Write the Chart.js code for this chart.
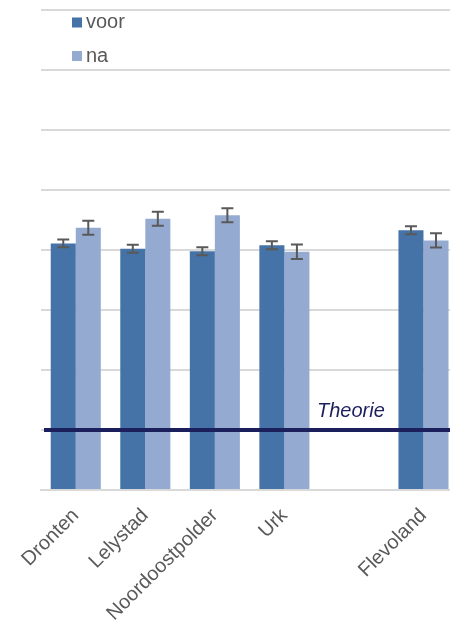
<!DOCTYPE html>
<html>
<head>
<meta charset="utf-8">
<script src="https://cdn.jsdelivr.net/npm/chart.js@4/dist/chart.umd.min.js"></script>
<style>
  html, body { margin: 0; padding: 0; background: #fff; overflow: hidden; }
  #wrap { width: 460px; height: 625px; position: relative; }
</style>
</head>
<body>
<div id="wrap"><canvas id="c"></canvas></div>
<script>
const categories = ['Dronten', 'Lelystad', 'Noordoostpolder', 'Urk', '', 'Flevoland'];
const voor = [4.11, 4.02, 3.98, 4.08, null, 4.33];
const na = [4.37, 4.52, 4.58, 3.97, null, 4.16];
const voorErr = [0.065, 0.067, 0.067, 0.067, null, 0.067];
const naErr = [0.117, 0.117, 0.117, 0.12, null, 0.12];
const theorie = 1;
const theorieLabel = 'Theorie';
const seriesNames = ['voor', 'na'];

const errorBars = {
  id: 'errorBars',
  afterDatasetsDraw(chart) {
    const ctx = chart.ctx;
    const y = chart.scales.y;
    const errs = [voorErr, naErr];
    ctx.save();
    ctx.strokeStyle = '#595959';
    ctx.lineWidth = 2;
    chart.data.datasets.forEach((ds, di) => {
      const meta = chart.getDatasetMeta(di);
      meta.data.forEach((bar, i) => {
        const v = ds.data[i];
        const e = errs[di][i];
        if (v == null || e == null) return;
        const x = bar.x;
        const yt = y.getPixelForValue(v + e);
        const yb = y.getPixelForValue(v - e);
        ctx.beginPath();
        ctx.moveTo(x, yt); ctx.lineTo(x, yb);
        ctx.moveTo(x - 6, yt); ctx.lineTo(x + 6, yt);
        ctx.moveTo(x - 6, yb); ctx.lineTo(x + 6, yb);
        ctx.stroke();
      });
    });
    ctx.restore();
  }
};

const theorieLine = {
  id: 'theorieLine',
  afterDatasetsDraw(chart) {
    const ctx = chart.ctx;
    const a = chart.chartArea;
    const yy = chart.scales.y.getPixelForValue(theorie);
    ctx.save();
    ctx.strokeStyle = '#1b1f5c';
    ctx.lineWidth = 4;
    ctx.beginPath();
    ctx.moveTo(a.left + 3, yy);
    ctx.lineTo(a.right, yy);
    ctx.stroke();
    ctx.fillStyle = '#1b1f5c';
    ctx.font = 'italic 20px "Liberation Sans", Arial, sans-serif';
    ctx.textAlign = 'center';
    ctx.textBaseline = 'alphabetic';
    ctx.fillText(theorieLabel, chart.scales.x.getPixelForValue(4) - 3, yy - 13);
    ctx.restore();
  }
};

const customLegend = {
  id: 'customLegend',
  afterDraw(chart) {
    const ctx = chart.ctx;
    ctx.save();
    ctx.font = '20px "Liberation Sans", Arial, sans-serif';
    ctx.textBaseline = 'middle';
    ctx.textAlign = 'left';
    chart.data.datasets.forEach((ds, i) => {
      const cy = 22.5 + i * 33.5;
      ctx.fillStyle = ds.backgroundColor;
      ctx.fillRect(72, cy - 5, 10, 10);
      ctx.fillStyle = '#595959';
      ctx.fillText(ds.label, 86, cy);
    });
    ctx.restore();
  }
};

new Chart(document.getElementById('c'), {
  type: 'bar',
  data: {
    labels: categories,
    datasets: [
      { label: seriesNames[0], data: voor, backgroundColor: '#4573a7', borderWidth: 0 },
      { label: seriesNames[1], data: na, backgroundColor: '#95aad1', borderWidth: 0 }
    ]
  },
  options: {
    responsive: true,
    maintainAspectRatio: false,
    animation: false,
    layout: { padding: { left: 41, right: 1.75, top: 10, bottom: 0 } },
    plugins: { legend: { display: false }, tooltip: { enabled: false } },
    datasets: { bar: { categoryPercentage: 0.72, barPercentage: 1.0 } },
    scales: {
      x: {
        grid: { display: false, drawTicks: false },
        border: { display: true, color: '#d9d9d9', width: 2 },
        ticks: {
          color: '#595959',
          font: { family: '"Liberation Sans", Arial, sans-serif', size: 20 },
          minRotation: 45, maxRotation: 45,
          autoSkip: false,
          padding: 14
        },
        afterFit(s) { s.height = 135; }
      },
      y: {
        min: 0, max: 8,
        ticks: { display: false, stepSize: 1 },
        grid: { color: '#d9d9d9', lineWidth: 2, drawTicks: false },
        border: { display: false },
        afterFit(s) { s.width = 0; }
      }
    }
  },
  plugins: [errorBars, theorieLine, customLegend]
});
</script>
</body>
</html>
